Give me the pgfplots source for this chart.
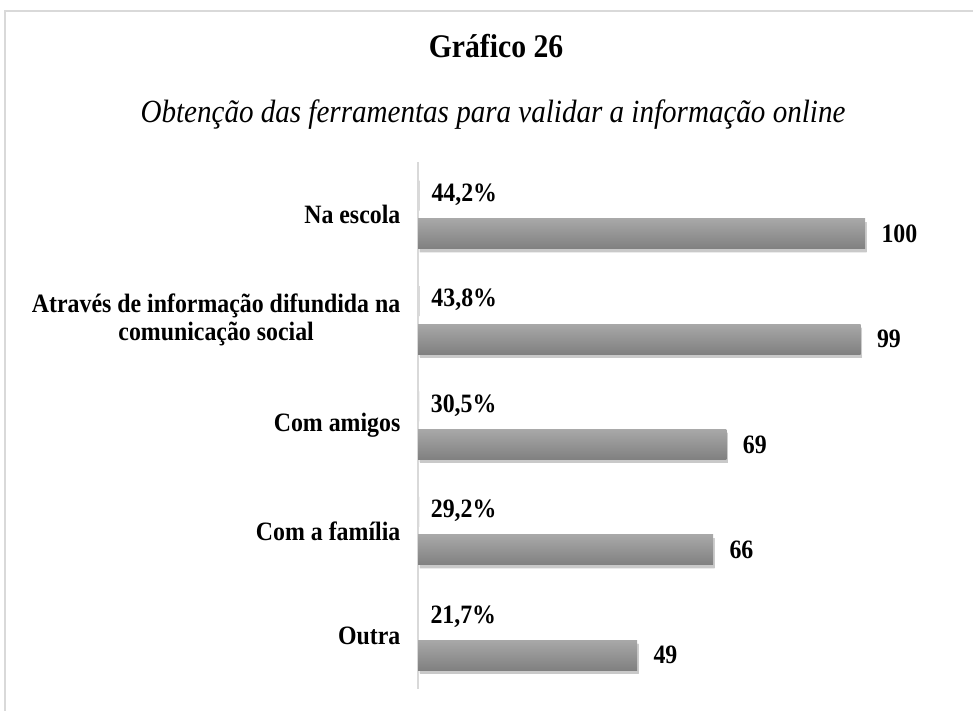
\documentclass[border=0pt]{standalone}
\usepackage{fontspec}
\setmainfont[FakeStretch=0.9]{Liberation Serif}
\usepackage{pgfplots}
\pgfplotsset{compat=1.18}
\definecolor{framegray}{HTML}{D9D9D9}
\definecolor{bartop}{HTML}{A8A8A8}
\definecolor{barbot}{HTML}{808080}
\begin{document}
\begin{tikzpicture}
\useasboundingbox (0pt,0pt) rectangle (973pt,711pt);
\begin{scope}
\clip (0pt,0pt) rectangle (973pt,711pt);
\draw[framegray, line width=2pt] (5pt,-20pt) -- (5pt,700pt) -- (1000pt,700pt);
\end{scope}
\node[font=\fontsize{33}{37}\selectfont\bfseries] at (496pt,665pt) {Gráfico 26};
\node[font=\fontsize{32.3}{36}\selectfont\itshape] at (493pt,596pt) {Obtenção das ferramentas para validar a informação online};
\begin{axis}[
  at={(418pt,22pt)}, anchor=south west,
  scale only axis, width=447pt, height=527pt,
  xmin=0, xmax=100, ymin=-0.5, ymax=4.5,
  xbar, bar width=30pt,
  axis x line=none,
  axis y line=left,
  y axis line style={-, draw=framegray, line width=1.5pt},
  ytick={0,1,2,3,4},
  yticklabels={Outra, Com a família, Com amigos, {Através de informação difundida na\\comunicação social}, Na escola},
  ytick style={draw=none},
  yticklabel style={font=\fontsize{26.5}{27.5}\selectfont\bfseries, align=center, xshift=-12pt},
  clip=false,
  /pgf/number format/assume math mode=true,
  nodes near coords,
  every node near coord/.append style={font=\fontsize{26.5}{28}\selectfont\bfseries, text=black, anchor=west},
  countbar/.style={bar shift=-19pt, draw=none, top color=bartop, bottom color=barbot,
    preaction={fill=black, opacity=0.16, transform canvas={xshift=1.5pt, yshift=-3.5pt}},
    every node near coord/.append style={xshift=13pt}},
]
\addplot[bar shift=19pt, draw=none, fill=framegray,
  point meta=explicit symbolic,
  every node near coord/.append style={xshift=8pt, yshift=1pt}]
  coordinates {(0.442,4) [44,2\%] (0.438,3) [43,8\%] (0.305,2) [30,5\%] (0.292,1) [29,2\%] (0.217,0) [21,7\%]};
\addplot[countbar] coordinates {(100,4)};
\addplot[countbar] coordinates {(99,3)};
\addplot[countbar] coordinates {(69,2)};
\addplot[countbar] coordinates {(66,1)};
\addplot[countbar] coordinates {(49,0)};
\end{axis}
\end{tikzpicture}
\end{document}
